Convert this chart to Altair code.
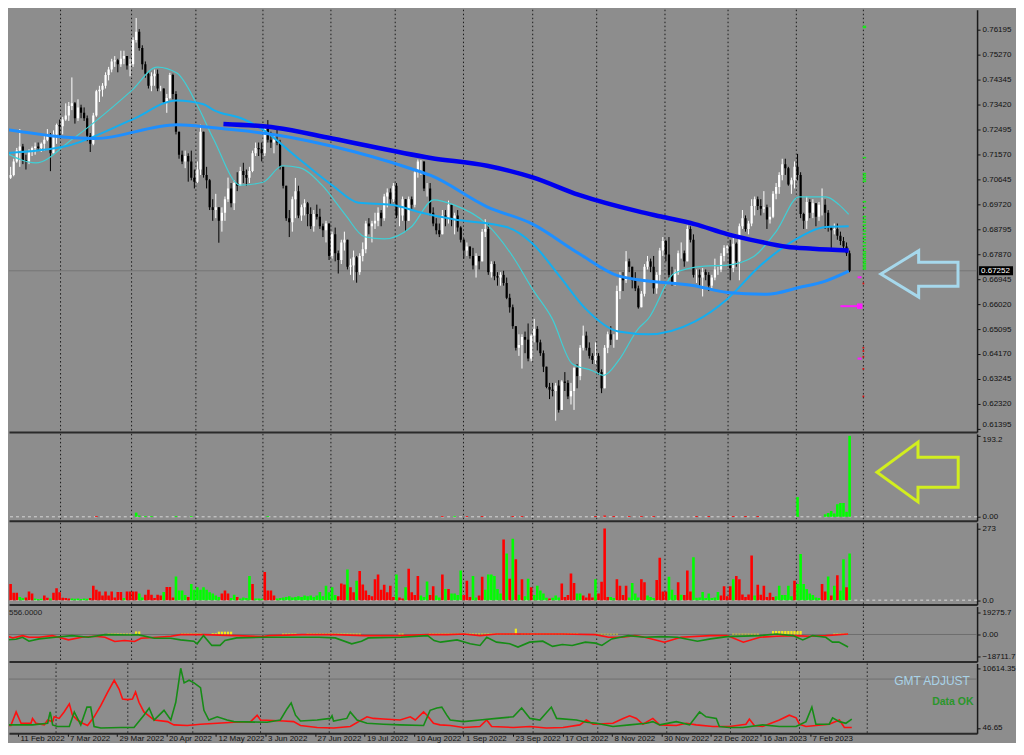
import json
import altair as alt
import pandas as pd

# ---------------- data ----------------
# bar index: 0 = 11 Feb 2022, one bar per trading day; prices in 1e-4 units
FIRST_BAR = -5
FIRST_OPEN = 7125
CLOSE = [
    7070, 7080, 7130, 7170, 7185, 7135, 7130, 7165, 7180, 7185,
    7180, 7195, 7210, 7230, 7160, 7230, 7265, 7260, 7285, 7300,
    7335, 7345, 7290, 7330, 7310, 7290, 7225, 7195, 7300, 7390,
    7395, 7410, 7450, 7470, 7500, 7505, 7490, 7510, 7520, 7485,
    7490, 7580, 7610, 7550, 7490, 7455, 7410, 7445, 7455, 7400,
    7400, 7350, 7365, 7450, 7380, 7240, 7155, 7130, 7150, 7130,
    7070, 7055, 7100, 7240, 7080, 7060, 6960, 6950, 6960, 6910,
    6940, 6990, 7030, 6975, 7050, 7040, 7095, 7080, 7070, 7095,
    7160, 7180, 7175, 7160, 7250, 7210, 7200, 7210, 7200, 7110,
    7040, 6920, 6905, 6990, 7020, 6930, 6960, 6975, 6935, 6890,
    6935, 6925, 6890, 6875, 6900, 6780, 6860, 6790, 6765, 6830,
    6840, 6740, 6745, 6775, 6720, 6780, 6805, 6900, 6890, 6900,
    6910, 6940, 6920, 7000, 7015, 6990, 7040, 6930, 6930, 6990,
    6910, 6990, 6970, 7090, 7130, 7130, 7030, 7030, 6940, 6900,
    6875, 6860, 6930, 6920, 6970, 6915, 6930, 6885, 6840, 6800,
    6815, 6780, 6745, 6780, 6760, 6870, 6880, 6720, 6750, 6705,
    6700, 6710, 6680, 6625, 6590, 6520, 6440, 6450, 6480, 6470,
    6400, 6485, 6510, 6460, 6420, 6370, 6295, 6285, 6280, 6300,
    6210, 6315, 6310, 6260, 6280, 6365, 6335, 6440, 6485, 6440,
    6410, 6395, 6410, 6350, 6290, 6440, 6490, 6470, 6470, 6650,
    6700, 6690, 6760, 6740, 6690, 6660, 6590, 6640, 6740, 6760,
    6740, 6660, 6710, 6800, 6835, 6785, 6710, 6680, 6720, 6790,
    6790, 6760, 6880, 6840, 6710, 6710, 6700, 6720, 6710, 6670,
    6700, 6730, 6730, 6780, 6810, 6815, 6735, 6825, 6760, 6890,
    6920, 6880, 6900, 6965, 6990, 6965, 6955, 6960, 6915, 6925,
    7010, 7035, 7080, 7120, 7105, 7045, 7060, 7110, 7080, 6935,
    6910, 6980, 6940, 6975, 6925, 6970, 6970, 6940, 6885, 6875,
    6880, 6855, 6835, 6815, 6790, 6725,
]
HIGH = [
    7135, 7110, 7140, 7180, 7250, 7195, 7155, 7175, 7185, 7200,
    7200, 7200, 7225, 7250, 7235, 7245, 7270, 7285, 7295, 7345,
    7350, 7441, 7350, 7360, 7340, 7330, 7300, 7235, 7310, 7395,
    7410, 7420, 7460, 7480, 7510, 7520, 7510, 7540, 7540, 7520,
    7510, 7590, 7661, 7620, 7560, 7500, 7460, 7460, 7470, 7470,
    7410, 7400, 7380, 7458, 7455, 7390, 7235, 7170, 7170, 7160,
    7170, 7100, 7130, 7266, 7235, 7110, 7065, 6990, 7010, 6960,
    6960, 7000, 7070, 7050, 7060, 7090, 7110, 7125, 7100, 7110,
    7170, 7200, 7200, 7200, 7260, 7283, 7240, 7230, 7250, 7210,
    7110, 7040, 6950, 7000, 7069, 7040, 6970, 6990, 6980, 6960,
    6950, 6970, 6955, 6900, 6910, 6900, 6870, 6885, 6800, 6840,
    6870, 6840, 6770, 6800, 6780, 6790, 6830, 6910, 6920, 6910,
    6940, 6960, 6950, 7010, 7030, 7030, 7050, 7050, 6960, 7000,
    6990, 7000, 7000, 7100, 7137, 7135, 7120, 7050, 7050, 6960,
    6920, 6900, 6950, 6950, 6985, 6970, 6940, 6950, 6890, 6845,
    6830, 6810, 6810, 6790, 6780, 6880, 6916, 6900, 6760, 6760,
    6720, 6720, 6725, 6700, 6640, 6600, 6520, 6490, 6490, 6500,
    6530, 6490, 6547, 6520, 6470, 6430, 6370, 6310, 6310, 6310,
    6320, 6320, 6350, 6320, 6310, 6370, 6380, 6450, 6522, 6500,
    6460, 6420, 6460, 6420, 6360, 6450, 6500, 6520, 6490, 6670,
    6720, 6720, 6798, 6770, 6740, 6720, 6670, 6650, 6750, 6780,
    6770, 6780, 6720, 6810, 6850, 6840, 6850, 6740, 6730, 6800,
    6830, 6800, 6893, 6890, 6860, 6730, 6730, 6735, 6730, 6720,
    6710, 6770, 6740, 6790, 6820, 6820, 6840, 6850, 6830, 6900,
    6950, 6930, 6910, 6990, 7000, 7000, 6990, 7020, 6970, 6960,
    7020, 7050, 7090, 7140, 7140, 7110, 7070, 7130, 7158, 7090,
    6940, 7000, 6990, 6990, 6970, 6980, 7030, 6990, 6950, 6890,
    6900, 6900, 6870, 6850, 6830, 6800,
]
LOW = [
    7050, 7065, 7075, 7125, 7110, 7120, 7100, 7120, 7150, 7155,
    7170, 7165, 7170, 7205, 7094, 7160, 7195, 7220, 7230, 7280,
    7280, 7320, 7270, 7280, 7290, 7280, 7205, 7165, 7190, 7295,
    7350, 7370, 7400, 7430, 7460, 7480, 7460, 7480, 7490, 7470,
    7445, 7480, 7570, 7540, 7470, 7440, 7400, 7390, 7410, 7390,
    7390, 7345, 7310, 7360, 7360, 7230, 7140, 7120, 7105, 7055,
    7060, 7030, 7050, 7080, 7070, 7030, 6950, 6910, 6920, 6829,
    6870, 6910, 6980, 6960, 6950, 7020, 7040, 7050, 7040, 7050,
    7090, 7150, 7150, 7130, 7150, 7200, 7180, 7160, 7190, 7100,
    7030, 6910, 6850, 6870, 6920, 6920, 6910, 6930, 6890, 6880,
    6870, 6915, 6880, 6850, 6830, 6765, 6770, 6760, 6715, 6750,
    6800, 6730, 6710, 6690, 6681, 6710, 6760, 6790, 6860, 6830,
    6880, 6890, 6890, 6910, 6960, 6970, 6980, 6920, 6890, 6910,
    6870, 6910, 6950, 6960, 7070, 7080, 7020, 7000, 6930, 6890,
    6860, 6850, 6860, 6890, 6900, 6890, 6860, 6870, 6830, 6770,
    6780, 6770, 6730, 6700, 6730, 6760, 6850, 6710, 6700, 6690,
    6670, 6670, 6670, 6620, 6570, 6510, 6430, 6410, 6363, 6420,
    6390, 6390, 6460, 6430, 6410, 6350, 6290, 6250, 6260, 6170,
    6200, 6210, 6280, 6250, 6230, 6210, 6290, 6320, 6430, 6430,
    6400, 6380, 6380, 6340, 6272, 6290, 6420, 6450, 6440, 6470,
    6620, 6650, 6680, 6720, 6660, 6650, 6585, 6590, 6630, 6730,
    6720, 6640, 6640, 6680, 6780, 6760, 6700, 6670, 6670, 6710,
    6770, 6740, 6760, 6830, 6700, 6680, 6670, 6630, 6690, 6650,
    6660, 6690, 6710, 6720, 6760, 6790, 6690, 6720, 6740, 6690,
    6880, 6870, 6860, 6890, 6930, 6950, 6930, 6940, 6880, 6900,
    6920, 6990, 7010, 7060, 7080, 7040, 7010, 7030, 7060, 6920,
    6880, 6880, 6920, 6920, 6890, 6910, 6930, 6880, 6870, 6810,
    6860, 6840, 6820, 6800, 6780, 6720,
]
LAST_PRICE = 0.67252

VOLUME = [
    12, 62, 28, 28, 12, 8, 10, 33, 25, 6,
    4, 5, 18, 9, 6, 28, 45, 30, 9, 8,
    6, 6, 5, 6, 4, 6, 5, 8, 55, 40,
    33, 18, 33, 18, 33, 10, 31, 31, 8, 33,
    33, 33, 33, 25, 10, 21, 40, 21, 8, 21,
    18, 31, 50, 50, 10, 90, 37, 37, 20, 12,
    62, 40, 49, 40, 49, 40, 30, 25, 18, 12,
    25, 37, 25, 8, 21, 12, 6, 10, 8, 92,
    62, 6, 6, 5, 107, 37, 37, 18, 6, 8,
    10, 12, 15, 10, 12, 15, 12, 18, 15, 18,
    12, 18, 31, 15, 55, 30, 49, 20, 15, 64,
    60, 117, 49, 30, 74, 111, 60, 37, 20, 15,
    80, 98, 40, 59, 30, 55, 12, 98, 10, 6,
    49, 120, 30, 20, 92, 18, 12, 71, 20, 53,
    18, 10, 98, 43, 43, 25, 25, 20, 113, 20,
    74, 12, 92, 10, 18, 89, 40, 98, 98, 92,
    43, 25, 231, 178, 82, 234, 156, 21, 80, 15,
    82, 49, 20, 55, 37, 25, 9, 6, 9, 18,
    10, 64, 12, 20, 102, 65, 25, 25, 18, 10,
    25, 10, 80, 25, 70, 273, 12, 12, 8, 80,
    55, 20, 55, 10, 65, 25, 10, 80, 68, 18,
    12, 8, 77, 162, 33, 33, 89, 40, 20, 68,
    21, 20, 113, 33, 164, 9, 10, 31, 8, 25,
    8, 10, 31, 18, 53, 15, 53, 80, 92, 80,
    22, 12, 22, 170, 18, 59, 21, 55, 12, 28,
    12, 15, 55, 20, 20, 55, 15, 74, 62, 176,
    62, 43, 25, 20, 10, 8, 62, 33, 90, 18,
    55, 95, 37, 156, 49, 178,
]
VOLUME_DIR = list(
    "grrrggrrrg" "ggrrgrrrrr" "rggggggrrr" "rrrrrrrrgr" "rrrggrrrrr"
    "rgrrrggggr" "gggggggggg" "rrrggrgggg" "rgggrrrrgg" "gggggggggg"
    "ggggggggrr" "rgrrgrrrrr" "rrrrrrrgrr" "grrrrgggrr" "ggrgrggggr"
    "rrggrrgggg" "ggrgrgrgrg" "grgggggrgg" "grrrrrggrr" "rrgrrrrggr"
    "rrrggggrrg" "ggrrrrgggr" "grrrgggggg" "gggrrrrgrr" "rrrrgrrrrr"
    "rggggggrgg" "ggggggrrgr" "grggrg"
)

# moving averages read at sample bars (bar index, price)
MA_SLOW_K = [65.5, 82.6, 101, 133.2, 151.6, 166.5, 181.6, 201, 208.4, 219.4, 230, 240.6, 249.4, 258, 269.7]
MA_SLOW_P = [0.7269, 0.7255, 0.7215, 0.7143, 0.7114, 0.7071, 0.7006, 0.6945, 0.6926, 0.6898, 0.6861, 0.6833, 0.6814, 0.6807, 0.6800]
MA_100_K = [-5.5, 23.5, 50.3, 62.3, 83.9, 101, 126.8, 133.2, 151.6, 166.5, 181.6, 194.5, 201, 219.4, 230, 242.9, 253.5, 262.3, 269.7]
MA_100_P = [0.7248, 0.7215, 0.7266, 0.7255, 0.7226, 0.7186, 0.7103, 0.7078, 0.6962, 0.6898, 0.6789, 0.6706, 0.6692, 0.6670, 0.6645, 0.6638, 0.6663, 0.6688, 0.6724]
MA_50_K = [-5.5, 13.9, 35.5, 50.3, 59, 62.3, 71.9, 78.4, 89, 101, 109.7, 120.3, 130, 140.6, 158, 166.5, 175.2, 183.9, 194.5, 204.2, 219.4, 230, 240.6, 251.6, 262.3, 269.7]
MA_50_P = [0.7161, 0.7186, 0.7284, 0.7356, 0.7342, 0.7320, 0.7287, 0.7248, 0.7150, 0.7042, 0.6977, 0.6970, 0.6941, 0.6916, 0.6887, 0.6825, 0.6706, 0.6583, 0.6500, 0.6490, 0.6537, 0.6620, 0.6742, 0.6836, 0.6887, 0.6890]
MA_20_K = [-5.5, 4.2, 16.1, 35.5, 43.9, 50.3, 56.8, 62.3, 71, 78.4, 84.8, 90.3, 97.7, 105.2, 111.6, 118.1, 126.8, 134.2, 140.6, 151.6, 160, 166.5, 172.9, 179.4, 185.8, 189.7, 194.5, 201, 204.2, 212.9, 222.6, 230, 238.7, 246.1, 253.5, 262.3, 266.5, 269.7]
MA_20_P = [0.7161, 0.7125, 0.7212, 0.7392, 0.7479, 0.7457, 0.7342, 0.7212, 0.7042, 0.7053, 0.7114, 0.7107, 0.7042, 0.6934, 0.6851, 0.6843, 0.6887, 0.6988, 0.6970, 0.6897, 0.6778, 0.6656, 0.6547, 0.6381, 0.6356, 0.6338, 0.6392, 0.6511, 0.6547, 0.6717, 0.6742, 0.6746, 0.6778, 0.6872, 0.6999, 0.6999, 0.6970, 0.6934]

# order-book style marks at the right edge of the price panel
DEPTH_GREEN = [0.7630, 0.7626, 0.7144, 0.7085, 0.7078, 0.7071, 0.7063, 0.7056, 0.6981, 0.6959, 0.6926,
               0.6915, 0.6905, 0.6894, 0.6883, 0.6872, 0.6861, 0.6850, 0.6840, 0.6829, 0.6818, 0.6807,
               0.6796, 0.6789, 0.6782, 0.6775, 0.6767, 0.6760, 0.6753, 0.6746, 0.6739, 0.6732]
DEPTH_MAGENTA = [0.6701, 0.6400]
DEPTH_MAGENTA_LONG = 0.6594
DEPTH_RED = [0.6678, 0.6440, 0.6428, 0.6407, 0.6362, 0.6260]

# panel 2 histogram (sparse)
P2_K = [24, 37, 38, 40, 42, 50, 55, 80, 137, 141, 145, 150, 160, 163, 187, 190, 193, 198, 202, 206,
        220, 224, 232, 236, 240, 253, 262, 263, 264, 265, 266, 267, 268, 269, 270]
P2_V = [2, 10, 3, 2, 2, 2, 2, 2, 2, 2, 2, 2, 2, 2, 2, 3, 2, 2, 2, 2,
        2, 2, 2, 2, 2, 47, 6, 9, 14, 8, 30, 33, 33, 12, 193.2]
P2_DIR = list("rggggggg" "rgrrrrrrrrrrrrrrr" "gggggggggg")

# panel 4 lines (bar index, value)
P4_RED_K = [-5.5, -3.3, -0.1, 2.0, 5.3, 9.6, 11.7, 14.9, 19.2, 23.5, 26.8, 30.0, 33.2, 36.5, 38.6, 44.0, 48.3,
            51.5, 59.0, 69.8, 78.4, 80.5, 91.3, 102.0, 111.7, 123.5, 132.2, 138.6, 144.0, 149.3, 154.7, 165.5,
            176.2, 187.0, 191.3, 195.6, 199.9, 203.1, 209.5, 214.9, 224.6, 230.0, 235.3, 240.7, 246.1, 251.5,
            256.9, 262.2, 269.5]
P4_RED_V = [-986, -2958, -986, -2394, -2394, -986, -2394, -4648, -2394, -1549, -2394, -6056, -5211, -6056, -3239,
            -2394, -1549, -141, -141, -986, -1831, -986, -141, -141, -986, -986, -141, -141, 423, -986, 423, 423,
            423, -141, -2394, -2394, -986, -2394, -6619, -2394, -986, -986, -6619, -2394, -1549, -986, -1549,
            -986, 423]
P4_GREEN_K = [-5.5, -2.3, -0.1, 2.0, 5.3, 10.6, 16.0, 21.4, 26.8, 35.4, 37.5, 42.9, 48.3, 51.5, 55.8, 56.9, 59.0,
              61.7, 64.4, 66.0, 69.8, 78.4, 85.9, 96.7, 102.0, 107.4, 110.6, 112.8, 123.5, 132.2, 134.3, 136.4,
              141.8, 146.1, 149.3, 151.5, 154.7, 159.0, 161.7, 165.5, 169.8, 173.0, 176.2, 179.4, 183.7, 187.0,
              189.1, 192.3, 197.7, 203.1, 208.5, 213.8, 220.3, 224.6, 230.0, 240.7, 246.1, 251.5, 254.7, 257.9,
              262.2, 264.4, 266.5, 269.5]
P4_GREEN_V = [-4648, -4084, -2394, -5774, -3803, -2394, -986, -2394, -141, -423, -141, -3239, -3239, -4648, -5774,
              -8028, -986, -9436, -9436, -5211, -2958, -2394, -2394, -2394, -2958, -8028, -5774, -2958, -2394, -986,
              -5211, -6619, -4648, -8028, -9436, -2394, -6619, -8028, -10844, -6619, -5774, -10281, -8591, -9436,
              -6619, -7464, -9436, -3803, -986, -2394, -1831, -2394, -5774, -3803, -1831, -986, 423, -986, -4648,
              -986, -2394, -6619, -6619, -10844]
P4_YELLOW_FROM = [28, 37, 52, 62, 64, 85, 93, 123, 133, 161, 163, 187, 232, 245, 265]
P4_YELLOW_TO = [35, 38, 58, 63, 68, 89, 110, 124, 160, 161, 181, 194, 240, 254, 269]
P4_YELLOW_V = [800, 2600, 800, 1000, 2400, 800, 800, 800, 800, 5000, 900, 600, 700, 3000, 800]

# panel 5 lines
P5_RED_K = [-5.5, -4.4, -3.9, -2.3, -0.6, 1.0, 4.2, 4.7, 5.8, 8.5, 9.6, 11.2, 11.7, 13.3, 14.9, 16.6, 17.6, 19.2,
            20.9, 22.5, 24.6, 26.8, 28.9, 31.1, 32.7, 33.8, 35.4, 37.0, 38.0, 39.1, 40.7, 44.0, 48.3, 50.4, 54.7,
            59.0, 64.4, 69.8, 75.2, 77.3, 78.4, 85.9, 89.1, 91.3, 96.7, 102.0, 107.4, 112.8, 114.9, 118.2, 123.5,
            126.8, 128.4, 131.1, 132.2, 134.3, 136.4, 139.7, 144.0, 149.3, 151.5, 153.1, 160.1, 165.5, 170.8,
            176.2, 181.6, 183.7, 185.9, 192.3, 195.6, 197.7, 199.9, 202.0, 205.2, 207.4, 212.8, 216.0, 219.2,
            224.6, 230.0, 235.3, 236.4, 238.0, 240.7, 246.1, 249.3, 251.5, 252.6, 254.7, 257.9, 262.2, 265.5,
            267.1, 269.5]
P5_RED_V = [2595, 2595, 476, 476, 2881, 877, 877, 1736, 877, 590, 1450, 1163, 2022, 1736, 2881, 4313, 2309, 1450,
            877, 476, 2022, 4027, 6317, 8494, 6890, 5172, 5058, 5172, 6432, 4599, 2881, 1450, 1163, 590, 476, 705,
            877, 1049, 1163, 2309, 1450, 1278, 1163, 476, 133, 47, 304, 2022, 1736, 1622, 1450, 2022, 1450, 2881,
            2309, 877, 590, 476, 133, 304, 1450, 304, 133, 304, 47, 133, 590, 1450, 705, 877, 1736, 2194, 1736,
            705, 1736, 590, 476, 877, 590, 304, 304, 705, 1622, 476, 304, 1450, 2309, 1850, 705, 304, 476, 705,
            1450, 133, 133]
P5_GREEN_K = [-5.5, -4.4, -3.9, 4.7, 9.6, 10.4, 11.2, 12.8, 16.6, 18.2, 20.3, 22.3, 23.5, 24.6, 26.8, 33.2, 37.5,
              40.7, 42.4, 44.0, 47.2, 49.4, 51.0, 52.6, 53.7, 55.3, 56.9, 59.0, 60.1, 61.7, 64.4, 67.6, 69.8, 80.5,
              84.8, 87.0, 88.3, 89.7, 91.3, 96.7, 101.0, 101.5, 102.0, 106.3, 107.4, 109.6, 112.8, 118.2, 123.5,
              131.1, 133.2, 135.4, 137.0, 138.6, 139.7, 144.0, 149.3, 154.7, 160.1, 162.8, 165.5, 168.7, 172.4,
              174.1, 180.5, 183.7, 187.0, 192.3, 197.7, 203.1, 205.2, 207.4, 212.8, 217.1, 220.3, 222.4, 225.7,
              226.7, 230.0, 234.3, 240.7, 246.1, 251.5, 254.7, 256.6, 257.9, 262.2, 263.3, 265.5, 267.6, 269.5]
P5_GREEN_V = [590, 1450, 590, 590, 877, 2881, 590, 304, 304, 2881, 590, 3740, 3740, 304, 47, 133, 133, 2309, 3569,
              1450, 3168, 1450, 4599, 10614, 8035, 8494, 8035, 7176, 3168, 1450, 2022, 1450, 1163, 1049, 1450,
              3454, 4485, 2309, 1278, 1450, 1736, 2194, 1278, 1736, 2881, 1450, 877, 705, 590, 476, 3168, 3569,
              3740, 2309, 1450, 1163, 1450, 1736, 2022, 3569, 1736, 1450, 3740, 1736, 1450, 1049, 877, 304, 590,
              877, 1163, 590, 1163, 590, 2881, 2022, 1736, 304, 133, 133, 590, 304, 304, 1163, 3740, 705, 705,
              1850, 1163, 877, 1622]
P5_LEVEL = 8700

# axis texts
PRICE_TICKS = [0.61395, 0.62320, 0.63245, 0.64170, 0.65095, 0.66020, 0.66945, 0.67870, 0.68795,
               0.69720, 0.70645, 0.71570, 0.72495, 0.73420, 0.74345, 0.75270, 0.76195]
DATE_LABELS = ["11 Feb 2022", "7 Mar 2022", "29 Mar 2022", "20 Apr 2022", "12 May 2022", "3 Jun 2022",
               "27 Jun 2022", "19 Jul 2022", "10 Aug 2022", "1 Sep 2022", "23 Sep 2022", "17 Oct 2022",
               "8 Nov 2022", "30 Nov 2022", "22 Dec 2022", "16 Jan 2023", "7 Feb 2023"]
DATE_STEP = 16
MONTH_SEPARATORS = [12.3, 35.5, 56.5, 78.4, 100.6, 121.6, 143.9, 166.5, 187.4, 209.7, 230.3, 252.6, 274.5]
P2_TICKS = [0, 193.2]
P3_TICKS = [0, 273]
P4_TICKS = [-18711.7, 0, 19275.7]
P5_TICKS = [46.65, 10614.35]

# annotation arrows: anchor (bar index, value)
ARROW_BLUE_AT = (292.8, 0.67134)
ARROW_YELLOW_AT = (292.2, 106.4)

# ---------------- layout / style ----------------
W = 970
H1, H2, H3, H4, H5 = 423, 87, 82, 55, 70
PX_PER_BAR = 3.1
XDOM = [-2.903, -2.903 + W / PX_PER_BAR]
BG = "#8d8d8d"
FONT = "Liberation Sans Narrow, Liberation Sans, Arial, sans-serif"
INK = "#111111"

n = len(CLOSE)
assert len(HIGH) == n and len(LOW) == n and len(VOLUME) == n and len(VOLUME_DIR) == n
assert len(P2_K) == len(P2_V) == len(P2_DIR)

bars = list(range(FIRST_BAR, FIRST_BAR + n))
opens = [FIRST_OPEN] + CLOSE[:-1]
wick_up, wick_dn, body_up, body_dn = [], [], [], []
for k, o, h, l, c in zip(bars, opens, HIGH, LOW, CLOSE):
    hi, lo = max(h, o, c) / 1e4, min(l, o, c) / 1e4
    w = dict(k=k, y=lo, y2=hi)
    b = dict(k=k, y=o / 1e4, y2=c / 1e4)
    if c >= o:
        wick_up.append(w); body_up.append(b)
    else:
        wick_dn.append(w); body_dn.append(b)


def X(axis):
    return alt.X("k:Q", scale=alt.Scale(domain=XDOM, nice=False, zero=False), axis=axis)


def Y(domain, axis):
    return alt.Y("y:Q", scale=alt.Scale(domain=domain, nice=False, zero=False), axis=axis)


def yaxis(values, fmt=None, expr=None, baseline=None):
    kw = dict(orient="right", values=values, title=None, domain=True, domainWidth=1.5,
              domainColor="#1a1a1a", ticks=True, tickSize=3, labelPadding=2)
    if fmt:
        kw["format"] = fmt
    if expr:
        kw["labelExpr"] = expr
    if baseline:
        kw["labelBaseline"] = baseline
    return alt.Axis(**kw)


SEP_AXIS = alt.Axis(orient="bottom", labels=False, ticks=False, domain=True, domainWidth=2,
                    domainColor="#2a2a2a", title=None, grid=False)
BOTTOM_AXIS = alt.Axis(
    orient="bottom", values=[DATE_STEP * i for i in range(len(DATE_LABELS))],
    labelExpr="%s[round(datum.value / %d)]" % (json.dumps(DATE_LABELS), DATE_STEP),
    labelAlign="left", labelBaseline="top", labelPadding=-2, labelOffset=2, tickSize=3,
    domain=True, domainWidth=2, domainColor="#2a2a2a", title=None, grid=False)

sep_df = pd.DataFrame({"k": MONTH_SEPARATORS})


def separators(x):
    return alt.Chart(sep_df).mark_rule(color="#1c1c1c", strokeDash=[1.5, 2.5], strokeWidth=1).encode(x=x)


def df(ks, vs, **extra):
    d = pd.DataFrame({"k": ks, "y": vs})
    for key, val in extra.items():
        d[key] = val
    return d


# ---------------- panel 1: price ----------------
x1 = X(SEP_AXIS)
y1 = Y([0.612857, 0.769170], yaxis(
    PRICE_TICKS, fmt=".5f",
    baseline={"condition": {"test": "datum.value < 0.62", "value": "bottom"}, "value": "middle"}))

price_line = alt.Chart(pd.DataFrame({"y": [LAST_PRICE]})).mark_rule(color="#767676", strokeWidth=1).encode(y=y1)


def wicks(rows, color):
    return alt.Chart(pd.DataFrame(rows)).mark_rule(color=color, strokeWidth=1, clip=True).encode(
        x=x1, y=y1, y2=alt.Y2("y2:Q"))


def bodies(rows, color):
    return alt.Chart(pd.DataFrame(rows)).mark_bar(color=color, size=2.2, clip=True).encode(
        x=x1, y=y1, y2=alt.Y2("y2:Q"))


def ma(ks, ps, color, width):
    return alt.Chart(df(ks, ps)).mark_line(color=color, strokeWidth=width, interpolate="monotone",
                                           clip=True).encode(x=x1, y=y1)


depth_g = alt.Chart(df([274.3] * len(DEPTH_GREEN), DEPTH_GREEN, k2=275.4)).mark_rule(
    color="#19e619", strokeWidth=1.5).encode(x=x1, x2=alt.X2("k2:Q"), y=y1)
depth_m = alt.Chart(df([272.6] * len(DEPTH_MAGENTA), DEPTH_MAGENTA, k2=273.9)).mark_rule(
    color="#ff1aff", strokeWidth=2).encode(x=x1, x2=alt.X2("k2:Q"), y=y1)
depth_ml = alt.Chart(df([267.0], [DEPTH_MAGENTA_LONG], k2=273.9)).mark_rule(
    color="#ff1aff", strokeWidth=2).encode(x=x1, x2=alt.X2("k2:Q"), y=y1)
depth_mq = alt.Chart(df([273.3], [DEPTH_MAGENTA_LONG])).mark_point(
    shape="square", filled=True, color="#ff1aff", size=30, opacity=1).encode(x=x1, y=y1)
depth_r = alt.Chart(df([274.5] * len(DEPTH_RED), DEPTH_RED)).mark_point(
    shape="square", filled=True, color="#e01010", size=3, opacity=1).encode(x=x1, y=y1)

ARROW_BLUE = "M -1 0 L -0.02 -0.6 L -0.02 -0.3 L 1 -0.3 L 1 0.32 L -0.02 0.32 L -0.02 0.6 Z"
ARROW_YEL = "M -1 0 L 0.01 -0.74 L 0.01 -0.37 L 1 -0.37 L 1 0.37 L 0.01 0.37 L 0.01 0.73 Z"

arrow_blue = alt.Chart(df([ARROW_BLUE_AT[0]], [ARROW_BLUE_AT[1]])).mark_point(
    shape=ARROW_BLUE, size=77.3 ** 2, filled=False, stroke="#a6d8ec", strokeWidth=3, opacity=1).encode(x=x1, y=y1)

price_box = alt.Chart(pd.DataFrame({"y": [LAST_PRICE]})).mark_point(
    shape="M -1 -0.27 L 1 -0.27 L 1 0.27 L -1 0.27 Z", size=34 ** 2, filled=True, color="#000000",
    opacity=1).encode(x=alt.value(W + 19), y=y1)
price_txt = alt.Chart(pd.DataFrame({"y": [LAST_PRICE], "t": ["%.5f" % LAST_PRICE]})).mark_text(
    color="#ffffff", font=FONT, fontSize=8, align="left", baseline="middle").encode(
    x=alt.value(W + 4), y=y1, text="t:N")

panel1 = alt.layer(
    separators(x1), price_line,
    wicks(wick_up, "#ffffff"), wicks(wick_dn, "#000000"),
    bodies(body_up, "#ffffff"), bodies(body_dn, "#000000"),
    ma(MA_20_K, MA_20_P, "#3fcfd6", 1.2),
    ma(MA_50_K, MA_50_P, "#14aef0", 2),
    ma(MA_100_K, MA_100_P, "#1e8fff", 3),
    ma(MA_SLOW_K, MA_SLOW_P, "#0000ee", 4.5),
    depth_g, depth_ml, depth_m, depth_mq, depth_r,
    arrow_blue, price_box, price_txt,
).properties(width=W, height=H1)

# ---------------- panel 2 ----------------
x2 = X(SEP_AXIS)
y2 = Y([-9.31, 197.9], yaxis(
    P2_TICKS, expr="datum.value == 0 ? '0.00' : format(datum.value, '.1f')",
    baseline={"condition": {"test": "datum.value > 100", "value": "top"}, "value": "middle"}))
p2 = df(P2_K, P2_V, d=P2_DIR)
base2 = alt.Chart(pd.DataFrame({"y": [0]})).mark_rule(color="#d6d6d6", strokeDash=[3, 3]).encode(y=y2)
p2g = alt.Chart(p2[p2.d == "g"]).mark_bar(color="#00ff00", size=2.6).encode(x=x2, y=y2, y2=alt.datum(0))
p2r = alt.Chart(p2[p2.d == "r"]).mark_bar(color="#ff0000", size=2.6).encode(x=x2, y=y2, y2=alt.datum(0))
arrow_y = alt.Chart(df([ARROW_YELLOW_AT[0]], [ARROW_YELLOW_AT[1]])).mark_point(
    shape=ARROW_YEL, size=81.4 ** 2, filled=False, stroke="#d2ee1e", strokeWidth=3, opacity=1).encode(x=x2, y=y2)
panel2 = alt.layer(separators(x2), base2, p2g, p2r, arrow_y).properties(width=W, height=H2)

# ---------------- panel 3: volume ----------------
x3 = X(SEP_AXIS)
y3 = Y([-16.7, 295.3], yaxis(P3_TICKS, expr="datum.value == 0 ? '0.0' : format(datum.value, 'd')"))
vol = pd.DataFrame({"k": bars, "y": VOLUME, "d": VOLUME_DIR})
base3 = alt.Chart(pd.DataFrame({"y": [0]})).mark_rule(color="#d6d6d6", strokeDash=[3, 3]).encode(y=y3)
v_g = alt.Chart(vol[vol.d == "g"]).mark_bar(color="#00ff00", size=2.6, clip=True).encode(
    x=x3, y=y3, y2=alt.datum(0))
v_r = alt.Chart(vol[vol.d == "r"]).mark_bar(color="#ff0000", size=2.6, clip=True).encode(
    x=x3, y=y3, y2=alt.datum(0))
panel3 = alt.layer(separators(x3), base3, v_g, v_r).properties(width=W, height=H3)

# ---------------- panel 4 ----------------
x4 = X(SEP_AXIS)
y4 = Y([-23238, 24083], yaxis(P4_TICKS, expr="datum.value == 0 ? '0.00' : format(datum.value, '.1f')"))
yk, yv = [], []
for a, b, v in zip(P4_YELLOW_FROM, P4_YELLOW_TO, P4_YELLOW_V):
    for k in range(a, b + 1):
        yk.append(k); yv.append(v)
zero4 = alt.Chart(pd.DataFrame({"y": [0]})).mark_rule(color="#6e6e6e", strokeWidth=1).encode(y=y4)
yel4 = alt.Chart(df(yk, yv)).mark_bar(color="#f2e81c", size=2.2).encode(x=x4, y=y4, y2=alt.datum(0))
red4 = alt.Chart(df(P4_RED_K, P4_RED_V)).mark_line(color="#ff1010", strokeWidth=1.6, clip=True).encode(x=x4, y=y4)
grn4 = alt.Chart(df(P4_GREEN_K, P4_GREEN_V)).mark_line(color="#168c16", strokeWidth=1.6, clip=True).encode(x=x4, y=y4)
txt4 = alt.Chart(pd.DataFrame({"t": ["556.0000"]})).mark_text(
    color="#1e1e1e", font=FONT, fontSize=8, align="left", baseline="middle").encode(
    x=alt.value(0), y=alt.value(6), text="t:N")
panel4 = alt.layer(separators(x4), zero4, yel4, red4, grn4, txt4).properties(width=W, height=H4)

# ---------------- panel 5 ----------------
x5 = X(BOTTOM_AXIS)
y5 = Y([-898, 11471], yaxis(P5_TICKS, fmt=".2f"))
lvl5 = alt.Chart(pd.DataFrame({"y": [P5_LEVEL]})).mark_rule(color="#6e6e6e", strokeWidth=1).encode(y=y5)
red5 = alt.Chart(df(P5_RED_K, P5_RED_V)).mark_line(color="#ff1010", strokeWidth=1.6, clip=True).encode(x=x5, y=y5)
grn5 = alt.Chart(df(P5_GREEN_K, P5_GREEN_V)).mark_line(color="#168c16", strokeWidth=1.6, clip=True).encode(x=x5, y=y5)
gmt = alt.Chart(pd.DataFrame({"t": ["GMT ADJUST"]})).mark_text(
    color="#a9d3e8", font="Liberation Sans, Arial, sans-serif", fontSize=12, align="left",
    baseline="middle").encode(x=alt.value(887), y=alt.value(17.5), text="t:N")
dok = alt.Chart(pd.DataFrame({"t": ["Data OK"]})).mark_text(
    color="#2a962a", font="Liberation Sans, Arial, sans-serif", fontSize=10.5, fontWeight="bold",
    align="left", baseline="middle").encode(x=alt.value(925), y=alt.value(39), text="t:N")
panel5 = alt.layer(separators(x5), lvl5, red5, grn5, gmt, dok).properties(width=W, height=H5)

chart = alt.vconcat(panel1, panel2, panel3, panel4, panel5, spacing=2, bounds="flush").resolve_scale(
    y="independent", x="independent"
).properties(
    background=BG, padding={"left": 0, "top": 0, "right": 0, "bottom": 0}
).configure_view(stroke=None, fill=None).configure_axis(
    labelFont=FONT, labelFontSize=8, labelColor=INK, tickColor=INK, grid=False,
    labelFlush=False, labelOverlap=False
)

chart.save("out.html", embed_options={"renderer": "svg", "actions": False})
